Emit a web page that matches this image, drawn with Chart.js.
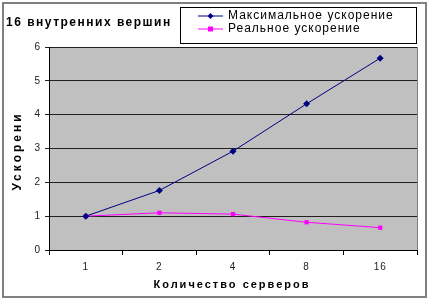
<!DOCTYPE html>
<html>
<head>
    <meta charset="utf-8">
    <title>Ускорение</title>
    <style>
        html, body { margin: 0; padding: 0; background: #fff; }
        .frame { position: relative; width: 432px; height: 301px; }
        #graph { position: absolute; left: 0; top: 0; }
    </style>
    <script src="https://cdn.jsdelivr.net/npm/chart.js"></script>
</head>
<body>
    <div class="frame">
        <canvas id="graph" width="432" height="301"></canvas>
    </div>
    <script>
        // data
        const servers = ['1', '2', '4', '8', '16'];
        const maxSpeedup = [1.0, 1.76, 2.92, 4.32, 5.67];
        const realSpeedup = [1.0, 1.1, 1.06, 0.82, 0.66];
        const yTicks = [0, 1, 2, 3, 4, 5, 6];

        const chartTitle = '16 внутренних вершин';
        const xTitle = 'Количество серверов';
        const yTitle = 'Ускорени';

        const font = '"Liberation Sans", Arial, sans-serif';

        // frame, gray plot background, titles and boxed legend
        const decor = {
            id: 'decor',
            beforeDraw(chart) {
                const c = chart.ctx;
                const a = chart.chartArea;
                c.save();
                c.fillStyle = '#fff';
                c.fillRect(0, 0, chart.width, chart.height);
                c.strokeStyle = '#808080';
                c.lineWidth = 2;
                c.strokeRect(3, 3, 423, 294);
                c.fillStyle = '#c0c0c0';
                c.fillRect(a.left, a.top, a.right - a.left, a.bottom - a.top);
                c.strokeStyle = '#808080';
                c.lineWidth = 1;
                c.beginPath();
                c.moveTo(a.right + 0.5, a.top);
                c.lineTo(a.right + 0.5, a.bottom);
                c.moveTo(a.left, a.top + 0.5);
                c.lineTo(a.right, a.top + 0.5);
                c.stroke();
                c.restore();
                c.letterSpacing = '1px';
            },
            afterDraw(chart) {
                const c = chart.ctx;
                const a = chart.chartArea;
                c.save();
                c.fillStyle = '#000';
                c.textBaseline = 'middle';

                c.letterSpacing = '1.5px';
                c.font = 'bold 12px ' + font;
                c.textAlign = 'left';
                c.fillText(chartTitle, 6, 23);

                // axis titles
                c.letterSpacing = '2px';
                c.font = 'bold 11px ' + font;
                c.textAlign = 'center';
                c.fillText(xTitle, (a.left + a.right) / 2 - 1, 285);
                c.save();
                c.translate(18, 151);
                c.rotate(-Math.PI / 2);
                c.font = 'bold 12px ' + font;
                c.letterSpacing = '3px';
                c.fillText(yTitle, 0, 0);
                c.restore();

                // legend box
                c.textAlign = 'left';
                c.letterSpacing = '1px';
                c.strokeStyle = '#000';
                c.lineWidth = 1;
                c.strokeRect(180.5, 7.5, 236, 36);
                c.font = '12px ' + font;
                chart.data.datasets.forEach((ds, i) => {
                    const y = 16 + i * 13;
                    c.strokeStyle = ds.borderColor;
                    c.beginPath();
                    c.moveTo(198, y);
                    c.lineTo(223, y);
                    c.stroke();
                    c.fillStyle = ds.backgroundColor;
                    if (ds.pointStyle === 'rectRot') {
                        c.beginPath();
                        c.moveTo(210.5, y - 3);
                        c.lineTo(213.5, y);
                        c.lineTo(210.5, y + 3);
                        c.lineTo(207.5, y);
                        c.closePath();
                        c.fill();
                    } else {
                        c.fillRect(208, y - 2.5, 5, 5);
                    }
                    c.fillStyle = '#000';
                    c.fillText(ds.label, 228, y);
                });
                c.restore();
            }
        };

        const ctx = document.getElementById('graph').getContext('2d');
        new Chart(ctx, {
            type: 'line',
            data: {
                labels: servers,
                datasets: [{
                    label: 'Максимальное ускорение',
                    data: maxSpeedup,
                    borderColor: '#000080',
                    backgroundColor: '#000080',
                    borderWidth: 1,
                    pointStyle: 'rectRot',
                    pointRadius: 3.5,
                    pointBorderWidth: 0
                }, {
                    label: 'Реальное ускорение',
                    data: realSpeedup,
                    borderColor: '#ff00ff',
                    backgroundColor: '#ff00ff',
                    borderWidth: 1,
                    pointStyle: 'rect',
                    pointRadius: 3,
                    pointBorderWidth: 0
                }]
            },
            options: {
                responsive: false,
                animation: false,
                layout: { padding: { top: 47, right: 15, left: 0, bottom: 0 } },
                plugins: {
                    legend: { display: false },
                    tooltip: { enabled: false }
                },
                scales: {
                    x: {
                        offset: true,
                        grid: {
                            offset: true,
                            drawOnChartArea: false,
                            color: '#000',
                            tickLength: 5
                        },
                        border: { color: '#000' },
                        ticks: {
                            color: '#222',
                            font: { family: font, size: 10 },
                            padding: 6,
                            maxRotation: 0
                        },
                        afterFit(s) { s.height = 51; }
                    },
                    y: {
                        min: 0,
                        max: 6,
                        afterBuildTicks(s) { s.ticks = yTicks.map(v => ({ value: v })); },
                        grid: {
                            color: '#202020',
                            tickLength: 4
                        },
                        border: { color: '#000' },
                        ticks: {
                            color: '#222',
                            font: { family: font, size: 10 },
                            padding: 4
                        },
                        afterFit(s) { s.width = 49; }
                    }
                }
            },
            plugins: [decor]
        });
    </script>
</body>
</html>
